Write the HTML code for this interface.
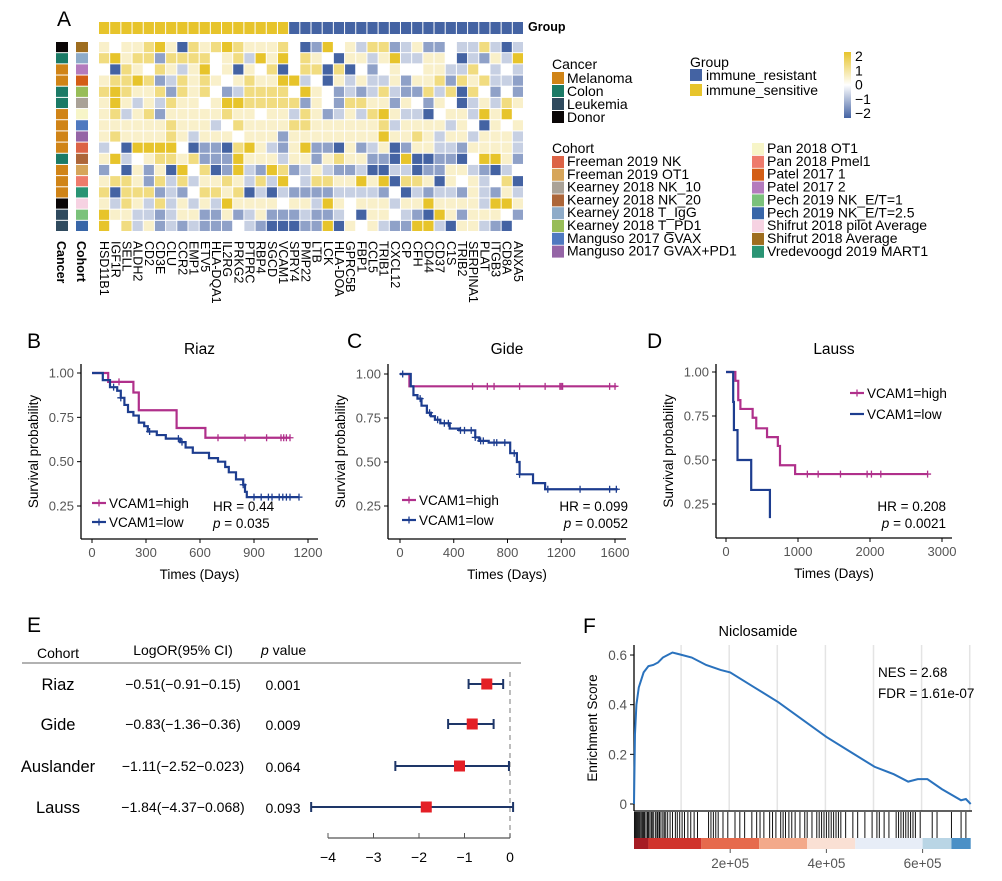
<!DOCTYPE html>
<html><head><meta charset="utf-8">
<style>
html,body{margin:0;padding:0;background:#fff;}
svg{display:block;font-family:"Liberation Sans",Arial,sans-serif;}
</style></head>
<body>
<svg id="fig" width="1002" height="881" viewBox="0 0 1002 881" xmlns="http://www.w3.org/2000/svg"></svg>
<script>
// ---------- Heatmap data ----------
const genes = ["HSD11B1","IGF1R","SELL","ALDH2","CD2","CD3E","CLU","CCR2","EMP1","ETV5","HLA-DQA1","IL2RG","PRKG2","PTPRC","RBP4","SGCD","VCAM1","SPRY4","PMP22","LTB","LCK","HLA-DOA","GPRC5B","FBP1","CCL5","TRIB1","CXCL12","CP","CFH","CD44","CD37","C1S","TRIB2","SERPINA1","PLAT","ITGB3","CD8A","ANXA5"];
const groupSensitiveCount = 17;
const heatRows = [
"pwppyYpBypyYypppy"+"wBbYwplyyblpbbwllylBl",
"yYpyybyyyywpylYpY"+"wypwBpplpYllppwBlbplY",
"wBypwyplpYwpBpwyB"+"wyyByBwbwpwwppllywlwl",
"pyyYyblypypwpyppY"+"YlwBplpllpbppybypyllb",
"yYyppybypywblyyyy"+"wYpwblblylbbylyBywbwb",
"pYplplyppwpYYyyyy"+"ybpwbyyppbpwbpwBlplyp",
"pylpybpppppyppwpp"+"lypblplyYpllBwpplYpYw",
"pppppppypppl wyppppy".replace(" ","").slice(1)+"yppppppylpppplpwBpwpp",
"pyppppyplpppwpppb"+"ppppppppYppyplpplpppl",
"lwBYYYYwBbbByYplb"+"pYbbBpblpBbppllbppppl",
"pYlwpyypybbbYpppl"+"ppbpyppbbBYBBbbBwYYpb",
"bwBpbpBYwyBbYlbYy"+"blplbblBBllBbbpplbBlw",
"pyypbylylppyplylY"+"wlyyppYpYByypBpwplwyB",
"yByyyblbwyypyBlBl"+"bbbbllllbwBlbllbplbpl",
"plyplylplplYppppw"+"pplYpwppplppYpppplYYp",
"Yppllblppbbpblpbb"+"blbblwBppwlbBYpbpppwb",
"YwylpblblbbbwlbBB"+"BbbYBpwplbbYYlBpplbB"
];
const cancerRows = ["Donor","Colon","Melanoma","Melanoma","Colon","Colon","Melanoma","Melanoma","Melanoma","Melanoma","Colon","Melanoma","Melanoma","Melanoma","Donor","Leukemia","Leukemia"];
const cohortRows = ["Shifrut 2018 Average","Kearney 2018 T_IgG","Patel 2017 2","Patel 2017 1","Kearney 2018 T_PD1","Kearney 2018 NK_10","Pan 2018 OT1","Manguso 2017 GVAX","Manguso 2017 GVAX+PD1","Freeman 2019 NK","Kearney 2018 NK_20","Freeman 2019 OT1","Pan 2018 Pmel1","Vredevoogd 2019 MART1","Shifrut 2018 pilot Average","Pech 2019 NK_E/T=1","Pech 2019 NK_E/T=2.5"];
const cancerNames = ["Melanoma","Colon","Leukemia","Donor"];
const cancerCols = ["#d08417","#1b7a66","#2f4a5e","#0a0606"];
const cohortLeft = ["Freeman 2019 NK","Freeman 2019 OT1","Kearney 2018 NK_10","Kearney 2018 NK_20","Kearney 2018 T_IgG","Kearney 2018 T_PD1","Manguso 2017 GVAX","Manguso 2017 GVAX+PD1"];
const cohortLeftCols = ["#dc6346","#d6a55a","#aaa297","#ad6639","#8eabc8","#98bd58","#4f79c0","#9565a6"];
const cohortRight = ["Pan 2018 OT1","Pan 2018 Pmel1","Patel 2017 1","Patel 2017 2","Pech 2019 NK_E/T=1","Pech 2019 NK_E/T=2.5","Shifrut 2018 pilot Average","Shifrut 2018 Average","Vredevoogd 2019 MART1"];
const cohortRightCols = ["#f7f5c8","#ee7b6c","#d35e16","#b47bbd","#7bc27b","#3866a8","#f6d2e2","#9e6d1f","#2a9474"];

// ---------- Survival data ----------
const riazHighT=[0,90,230,260,470,630,1100], riazHighS=[1,0.95,0.89,0.79,0.69,0.635,0.635];
const riazHighCens=[150,700,850,970,1050,1065,1080,1100];
const riazLowT=[0,60,100,140,160,180,200,230,260,290,310,360,410,490,520,560,650,700,740,760,800,840,850,860,1150];
const riazLowS=[1,0.96,0.92,0.9,0.86,0.82,0.78,0.76,0.72,0.7,0.67,0.65,0.63,0.61,0.58,0.55,0.52,0.5,0.47,0.44,0.4,0.37,0.33,0.3,0.3];
const riazLowCens=[120,160,320,480,500,840,900,940,980,1000,1040,1060,1080,1100,1150];
const gideHighT=[0,70,1610], gideHighS=[1,0.93,0.93];
const gideHighCens=[540,650,700,890,1080,1190,1200,1210,1560,1600];
const gideLowT=[0,80,100,130,160,200,230,260,300,370,440,560,590,660,820,870,890,990,1080,1620];
const gideLowS=[1,0.93,0.88,0.86,0.82,0.78,0.76,0.74,0.72,0.69,0.68,0.64,0.62,0.61,0.55,0.5,0.43,0.38,0.345,0.345];
const gideLowCens=[20,150,220,280,330,360,450,480,530,560,600,620,700,720,780,850,890,1100,1340,1560,1610];
const laussHighT=[0,130,170,200,370,420,570,720,750,960,2800], laussHighS=[1,0.95,0.84,0.79,0.74,0.68,0.63,0.58,0.47,0.42,0.42];
const laussHighCens=[1130,1280,1590,1960,2020,2150,2800];
const laussLowT=[0,100,110,160,350,610], laussLowS=[1,0.83,0.67,0.5,0.33,0.17];

// ---------- Forest data ----------
const forestCohorts=["Riaz","Gide","Auslander","Lauss"];
const forestEst=[-0.51,-0.83,-1.11,-1.84];
const forestLo=[-0.91,-1.36,-2.52,-4.37];
const forestHi=[-0.15,-0.36,-0.023,0.068];
const forestLabels=["−0.51(−0.91−0.15)","−0.83(−1.36−0.36)","−1.11(−2.52−0.023)","−1.84(−4.37−0.068)"];
const forestP=["0.001","0.009","0.064","0.093"];
const forestTicks=[-4,-3,-2,-1,0];

// ---------- GSEA data ----------
const esRank=[0,0.02,0.05,0.1,0.2,0.3,0.4,0.5,0.6,0.7,0.8,0.9,1.0,1.2,1.5,1.8,2.0,2.5,3.0,3.5,4.0,4.5,5.0,5.4,5.7,5.9,6.1,6.4,6.8,6.9,7.0];
const esScore=[0,0.28,0.4,0.47,0.53,0.555,0.56,0.57,0.59,0.6,0.61,0.605,0.6,0.59,0.56,0.54,0.53,0.47,0.41,0.34,0.27,0.21,0.15,0.12,0.09,0.1,0.1,0.06,0.015,0.02,0];
const hitRank=[0.01,0.03,0.05,0.07,0.09,0.11,0.13,0.16,0.18,0.2,0.22,0.25,0.28,0.3,0.33,0.36,0.38,0.41,0.45,0.48,0.5,0.53,0.56,0.6,0.63,0.66,0.7,0.75,0.8,0.86,0.9,0.95,1.0,1.05,1.12,1.18,1.25,1.32,
1.55,1.6,1.65,1.7,1.75,1.85,1.95,2.1,2.2,2.3,2.45,2.55,2.62,2.7,2.82,2.88,2.95,3.05,3.1,3.15,3.22,3.28,3.35,3.45,3.55,3.6,3.7,3.8,3.85,3.9,3.95,4.0,4.05,4.1,4.15,4.2,4.25,4.3,4.4,4.55,4.65,4.8,4.95,5.05,5.1,5.2,5.3,5.45,5.5,5.55,5.6,5.65,5.7,5.75,5.8,5.85,5.95,6.2,6.3,6.6,6.8,6.9];
const gseaTicks=[2,4,6];
const gseaTickLabels=["2e+05","4e+05","6e+05"];

const NS="http://www.w3.org/2000/svg";
const svg=document.getElementById('fig');
function mk(tag,attrs,parent){const e=document.createElementNS(NS,tag);for(const k in attrs)e.setAttribute(k,attrs[k]);(parent||svg).appendChild(e);return e;}
function txt(x,y,s,attrs,parent){const e=mk('text',Object.assign({x:x,y:y},attrs||{}),parent);e.textContent=s;return e;}

// ---------- Panel labels ----------
const panelLetters=[["A",57,26],["B",27,348],["C",347,348],["D",647,348],["E",27,632],["F",583,633]];
panelLetters.forEach(p=>{const t=txt(p[1],p[2],p[0],{'font-size':21});

});

// ---------- Heatmap ----------
const hm=mk('g',{});


const code={Y:2,y:1.2,p:0.5,w:0,l:-0.6,b:-1.2,B:-2};
const hx0=99,hy0=42,cw=425/genes.length,ch=190/heatRows.length;
function mix(a,b,t){const pa=[parseInt(a.slice(1,3),16),parseInt(a.slice(3,5),16),parseInt(a.slice(5,7),16)],pb=[parseInt(b.slice(1,3),16),parseInt(b.slice(3,5),16),parseInt(b.slice(5,7),16)];return 'rgb('+pa.map((v,i)=>Math.round(v+(pb[i]-v)*t)).join(',')+')';}
function heatColor(v){v=Math.max(-2,Math.min(2,v));return v>=0?mix('#ffffff','#e7c42b',v/2):mix('#ffffff','#4463a3',-v/2);}
genes.forEach((g,j)=>{
  const r=mk('rect',{x:hx0+j*cw,y:22,width:cw-1,height:12,fill:j<groupSensitiveCount?'#e7c42b':'#4463a3'},hm);
  
  
  const t=txt(0,0,g,{'font-size':12.5,transform:'translate('+(hx0+j*cw+cw/2-4.5)+',241) rotate(90)'},hm);
  
  
});
const gl=txt(528,31,"Group",{'font-size':12.5,'font-weight':'bold'},hm);


heatRows.forEach((row,i)=>{
  const vals=row.split('').map(c=>code[c]);
  for(let j=0;j<genes.length;j++){
    const v=vals[j]!==undefined?vals[j]:0;
    const c=mk('rect',{x:hx0+j*cw,y:hy0+i*ch,width:cw-1,height:ch-1,fill:heatColor(v)},hm);
    
    
  }
  const cc=mk('rect',{x:56,y:hy0+i*ch,width:12,height:ch-1,fill:cancerCols[cancerNames.indexOf(cancerRows[i])]},hm);
  
  
  const allC=cohortLeft.concat(cohortRight),allCol=cohortLeftCols.concat(cohortRightCols);
  const co=mk('rect',{x:76,y:hy0+i*ch,width:12,height:ch-1,fill:allCol[allC.indexOf(cohortRows[i])]},hm);
  
  
});
[["Cancer",57],["Cohort",77]].forEach(a=>{const t=txt(0,0,a[0],{'font-size':12.5,'font-weight':'bold',transform:'translate('+a[1]+',241) rotate(90)'},hm);

});

// legends
const lg=mk('g',{'font-size':14});


txt(552,69,"Cancer",{},lg);
cancerNames.forEach((n,i)=>{mk('rect',{x:552,y:72+i*13,width:12,height:12,fill:cancerCols[i]},lg);
const t=txt(567,83+i*13,n,{},lg);});
txt(690,67,"Group",{},lg);
[["immune_resistant","#4463a3"],["immune_sensitive","#e7c42b"]].forEach((g,i)=>{mk('rect',{x:690,y:69+i*15,width:12,height:12,fill:g[1]},lg);
const t=txt(706,80+i*15,g[0],{},lg);});
const defs=mk('defs',{});
const lgr=mk('linearGradient',{id:'cs',x1:0,y1:0,x2:0,y2:1},defs);
mk('stop',{offset:'0',  'stop-color':'#e7c42b'},lgr);mk('stop',{offset:'0.5','stop-color':'#ffffff'},lgr);mk('stop',{offset:'1','stop-color':'#4463a3'},lgr);
const cb=mk('rect',{x:844,y:52,width:7,height:66,fill:'url(#cs)'},lg);

["2","1","0","−1","−2"].forEach((s,i)=>txt(855,61+i*14.3,s,{},lg));
txt(552,153,"Cohort",{},lg);
cohortLeft.forEach((n,i)=>{mk('rect',{x:552,y:156+i*12.8,width:12,height:12,fill:cohortLeftCols[i]},lg);
const t=txt(567,166+i*12.8,n,{},lg);});
cohortRight.forEach((n,i)=>{mk('rect',{x:752,y:143+i*12.85,width:12,height:12,fill:cohortRightCols[i]},lg);
const t=txt(767,153+i*12.85,n,{},lg);});

// ---------- Survival panels ----------
function kmPanel(o){
  const g=mk('g',{});
  
  
  const X=d=>o.x0+(d/o.xmax)*(o.x1-o.x0);
  const Y=v=>o.y100+(1-v)*(o.y25-o.y100)/0.75;
  mk('line',{x1:o.ax,y1:o.top,x2:o.ax,y2:o.bot,stroke:'#000','stroke-width':1.3},g);
  mk('line',{x1:o.ax,y1:o.bot,x2:o.right,y2:o.bot,stroke:'#000','stroke-width':1.3},g);
  [1,0.75,0.5,0.25].forEach(v=>{mk('line',{x1:o.ax-4,y1:Y(v),x2:o.ax,y2:Y(v),stroke:'#000'},g);
    txt(o.ax-7,Y(v)+4.5,v.toFixed(2),{'font-size':13,'text-anchor':'end',fill:'#555'},g);});
  o.ticks.forEach(d=>{mk('line',{x1:X(d),y1:o.bot,x2:X(d),y2:o.bot+4,stroke:'#000'},g);
    txt(X(d),o.bot+18,String(d),{'font-size':13,'text-anchor':'middle',fill:'#555'},g);});
  txt((o.ax+o.right)/2,o.bot+40,"Times (Days)",{'font-size':13.5,'text-anchor':'middle'},g);
  txt(0,0,"Survival probability",{'font-size':13.5,'text-anchor':'middle',transform:'translate('+(o.ax-43)+','+((o.top+o.bot)/2)+') rotate(-90)'},g);
  const tt=txt((o.ax+o.right)/2,o.top-10,o.title,{'font-size':15.5,'text-anchor':'middle'},g);
  
  o.series.forEach(s=>{
    let d='M'+X(s.t[0])+','+Y(s.s[0]);
    for(let i=1;i<s.t.length;i++){d+=' H'+X(s.t[i])+' V'+Y(s.s[i]);}
    const p=mk('path',{d:d,fill:'none',stroke:s.col,'stroke-width':2.2},g);
    
    
    (s.cens||[]).forEach(c=>{let v=s.s[0];for(let i=0;i<s.t.length;i++)if(s.t[i]<=c)v=s.s[i];
      mk('path',{d:'M'+(X(c)-3.5)+','+Y(v)+'h7M'+X(c)+','+(Y(v)-3.5)+'v7',stroke:s.col,'stroke-width':1.3},g);});
  });
  o.legend.forEach((L,i)=>{const lx=L.x,ly=L.y;
    mk('line',{x1:lx,y1:ly,x2:lx+14,y2:ly,stroke:L.col,'stroke-width':2.2},g);
    if(L.plus)mk('line',{x1:lx+7,y1:ly-3.5,x2:lx+7,y2:ly+3.5,stroke:L.col,'stroke-width':1.3},g);
    const t=txt(lx+17,ly+5,L.label,{'font-size':13.5},g);});
  txt(o.statX,511,"HR = "+o.hr,{'font-size':13.5,'text-anchor':o.anchor},g);
  const pt=txt(o.statX,528,"",{'font-size':13.5,'text-anchor':o.anchor},g);
  const pi=mk('tspan',{'font-style':'italic'},pt);pi.textContent='p';
  const pr=mk('tspan',{},pt);pr.textContent=' = '+o.p;
}
const HIGH='#b0308b',LOW='#1d3d8f';
kmPanel({name:'km-riaz',title:'Riaz',ax:81,top:364,bot:539,right:318,x0:92,x1:308,xmax:1200,y100:373,y25:506,ticks:[0,300,600,900,1200],
 series:[{id:'vcam1-high',t:riazHighT,s:riazHighS,col:HIGH,cens:riazHighCens},{id:'vcam1-low',t:riazLowT,s:riazLowS,col:LOW,cens:riazLowCens}],
 legend:[{x:92,y:503,col:HIGH,label:'VCAM1=high',plus:true},{x:92,y:522,col:LOW,label:'VCAM1=low',plus:true}],statX:213,anchor:'start',hr:'0.44',p:'0.035'});
kmPanel({name:'km-gide',title:'Gide',ax:388,top:364,bot:539,right:626,x0:400,x1:615,xmax:1600,y100:374,y25:506,ticks:[0,400,800,1200,1600],
 series:[{id:'vcam1-high',t:gideHighT,s:gideHighS,col:HIGH,cens:gideHighCens},{id:'vcam1-low',t:gideLowT,s:gideLowS,col:LOW,cens:gideLowCens}],
 legend:[{x:402,y:500,col:HIGH,label:'VCAM1=high',plus:true},{x:402,y:520,col:LOW,label:'VCAM1=low',plus:true}],statX:628,anchor:'end',hr:'0.099',p:'0.0052'});
kmPanel({name:'km-lauss',title:'Lauss',ax:716,top:364,bot:538,right:952,x0:726,x1:942,xmax:3000,y100:372,y25:504,ticks:[0,1000,2000,3000],
 series:[{id:'vcam1-high',t:laussHighT,s:laussHighS,col:HIGH,cens:laussHighCens},{id:'vcam1-low',t:laussLowT,s:laussLowS,col:LOW,cens:[]}],
 legend:[{x:850,y:393,col:HIGH,label:'VCAM1=high',plus:true},{x:850,y:414,col:LOW,label:'VCAM1=low',plus:false}],statX:946,anchor:'end',hr:'0.208',p:'0.0021'});

// ---------- Forest plot ----------
const fg=mk('g',{});


const FX=v=>510+v*45.5;
const rowY=[684,724,766,807];
txt(58,658,"Cohort",{'font-size':14,'text-anchor':'middle'},fg);
txt(183,655,"LogOR(95% CI)",{'font-size':14,'text-anchor':'middle'},fg);
const ph=txt(261,655,"",{'font-size':14},fg);const phi=mk('tspan',{'font-style':'italic'},ph);phi.textContent='p';const phr=mk('tspan',{},ph);phr.textContent=' value';
mk('line',{x1:22,y1:663,x2:521,y2:663,stroke:'#999','stroke-width':1.5},fg);
mk('line',{x1:FX(0),y1:672,x2:FX(0),y2:838,stroke:'#999','stroke-width':1.3,'stroke-dasharray':'5,4'},fg);
forestCohorts.forEach((c,i)=>{const y=rowY[i];
  const t=txt(58,y+6,c,{'font-size':16.5,'text-anchor':'middle'},fg);
  txt(183,y+5,forestLabels[i],{'font-size':14,'text-anchor':'middle'},fg);
  txt(283,y+6,forestP[i],{'font-size':14,'text-anchor':'middle'},fg);
  const l=mk('path',{d:'M'+FX(forestLo[i])+','+y+'H'+FX(forestHi[i])+'M'+FX(forestLo[i])+','+(y-5)+'v10M'+FX(forestHi[i])+','+(y-5)+'v10',stroke:'#1e3668','stroke-width':2,fill:'none'},fg);
  
  const sq=mk('rect',{x:FX(forestEst[i])-5.5,y:y-5.5,width:11,height:11,fill:'#e41f26'},fg);
  
});
mk('line',{x1:FX(-4),y1:838,x2:FX(0),y2:838,stroke:'#555','stroke-width':1.2},fg);
forestTicks.forEach(v=>{mk('line',{x1:FX(v),y1:838,x2:FX(v),y2:833,stroke:'#555'},fg);
  txt(FX(v),862,v<0?'−'+Math.abs(v):String(v),{'font-size':14,'text-anchor':'middle'},fg);});

// ---------- GSEA ----------
const gg=mk('g',{});


const GX=r=>634+r*48.1, GY=v=>804-v*248.3;
for(let k=1;k<=7;k++)mk('line',{x1:GX(k)-1,y1:645,x2:GX(k)-1,y2:811,stroke:'#e4e4e4','stroke-width':1.5},gg);
mk('line',{x1:634,y1:645,x2:634,y2:811,stroke:'#000','stroke-width':1.3},gg);
mk('line',{x1:634,y1:811,x2:972,y2:811,stroke:'#000','stroke-width':1.3},gg);
[0,0.2,0.4,0.6].forEach(v=>{mk('line',{x1:630,y1:GY(v),x2:634,y2:GY(v),stroke:'#000'},gg);
  txt(627,GY(v)+5,v===0?'0':String(v),{'font-size':13.5,'text-anchor':'end',fill:'#555'},gg);});
txt(0,0,"Enrichment Score",{'font-size':13.5,'text-anchor':'middle',transform:'translate(597,728) rotate(-90)'},gg);
const gt=txt(758,636,"Niclosamide",{'font-size':14.5,'text-anchor':'middle'},gg);

txt(878,677,"NES = 2.68",{'font-size':13.5},gg);
txt(878,698,"FDR = 1.61e-07",{'font-size':13.5},gg);
const es=mk('path',{d:esRank.map((r,i)=>(i?'L':'M')+GX(r)+','+GY(esScore[i])).join(' '),fill:'none',stroke:'#2a72bd','stroke-width':2},gg);

hitRank.forEach(r=>{const h=mk('line',{x1:GX(r),y1:812,x2:GX(r),y2:838,stroke:'#111','stroke-width':1},gg);
});
const cbands=[[0,0.3,'#a61c24'],[0.3,1.4,'#d0342c'],[1.4,2.6,'#e66a4d'],[2.6,3.6,'#f3a98a'],[3.6,4.6,'#fae0d4'],[4.6,6.0,'#e7edf7'],[6.0,6.6,'#b9d5e5'],[6.6,7.0,'#4b90c6']];
cbands.forEach(b=>mk('rect',{x:GX(b[0]),y:838,width:GX(b[1])-GX(b[0]),height:11,fill:b[2]},gg));
gseaTicks.forEach((v,i)=>{mk('line',{x1:GX(v),y1:849,x2:GX(v),y2:853,stroke:'#555'},gg);
  txt(GX(v),868,gseaTickLabels[i],{'font-size':13.5,'text-anchor':'middle',fill:'#555'},gg);});
</script>
</body></html>
